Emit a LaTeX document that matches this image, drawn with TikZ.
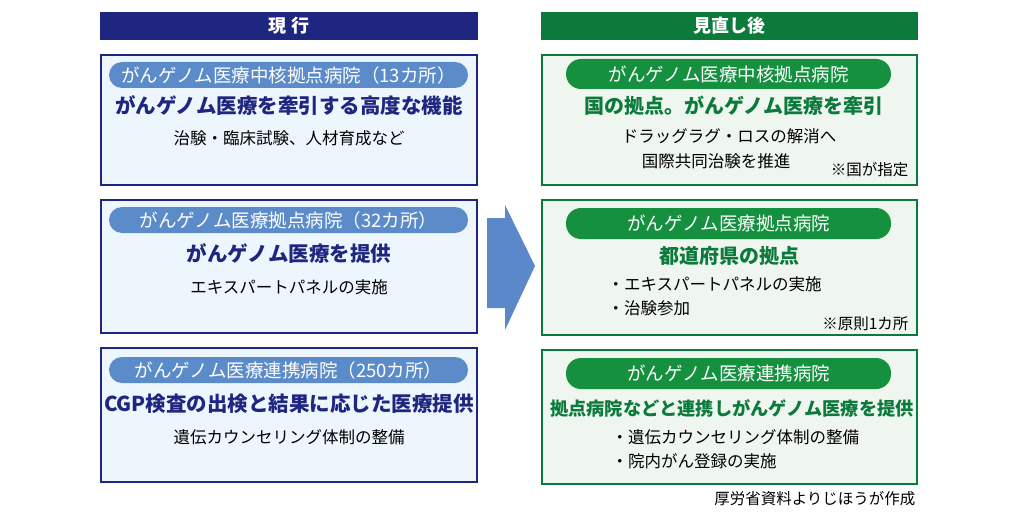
\documentclass[tikz,border=0pt]{standalone}
\usepackage{fontspec}
\setmainfont{Noto Sans CJK JP}
\usetikzlibrary{positioning}
\definecolor{navy}{HTML}{1F2680}
\definecolor{lfill}{HTML}{EEF6FD}
\definecolor{lpill}{HTML}{5B8BC9}
\definecolor{dgreen}{HTML}{0B7A3B}
\definecolor{rfill}{HTML}{EEF6EF}
\definecolor{rpill}{HTML}{15903F}
\definecolor{arrowblue}{HTML}{5B88C8}
\tikzset{
  hbar/.style={text=white,font=\fontsize{18}{20}\selectfont\bfseries},
  lbox/.style={draw=navy,fill=lfill,line width=1.2pt},
  rbox/.style={draw=dgreen,fill=rfill,line width=1.2pt},
  lpillst/.style={fill=lpill,rounded corners=13pt},
  rpillst/.style={fill=rpill,rounded corners=15pt},
  pilltext/.style={text=white,font=\fontsize{18.5}{20}\selectfont},
  lhead/.style={text=navy,font=\fontsize{20.5}{22}\selectfont\bfseries},
  rhead/.style={text=dgreen,font=\fontsize{20}{22}\selectfont\bfseries},
  sub/.style={text=black,font=\fontsize{16.5}{18}\selectfont},
  note/.style={text=black,font=\fontsize{15.5}{17}\selectfont}
}
\begin{document}
\begin{tikzpicture}[x=1pt,y=-1pt]
\useasboundingbox (0,0) rectangle (1024,513);
% headers
\fill[navy] (100,12) rectangle (478,40);
\node[hbar] (cur) at (289,26) {現 行};
\fill[dgreen] (541,12) rectangle (918,40);
\node[hbar] (new) at (729.5,26) {見直し後};
% left boxes
\draw[lbox] (101,55) rectangle (477,185);
\draw[lbox] (101,200) rectangle (477,333);
\draw[lbox] (101,348) rectangle (477,482);
\fill[lpillst] (109,62) rectangle (468,88);
\fill[lpillst] (109,207) rectangle (468,233);
\fill[lpillst] (109,357) rectangle (468,383);
\node[pilltext] (l1) at (288.5,75) {がんゲノム医療中核拠点病院（13カ所）};
\node[lhead] (l1h) at (289,106) {がんゲノム医療を牽引する高度な機能};
\node[sub] (l1s) at (289,138) {治験・臨床試験、人材育成など};
\node[pilltext] (l2) at (288.5,220) {がんゲノム医療拠点病院（32カ所）};
\node[lhead] (l2h) at (289,254) {がんゲノム医療を提供};
\node[sub] (l2s) at (289,287) {エキスパートパネルの実施};
\node[pilltext] (l3) at (288.5,370) {がんゲノム医療連携病院（250カ所）};
\node[lhead] (l3h) at (289,404) {CGP検査の出検と結果に応じた医療提供};
\node[sub] (l3s) at (289,437) {遺伝カウンセリング体制の整備};
% arrow
\fill[arrowblue] (487,218) -- (505,218) -- (505,205) -- (535,266) -- (505,330) -- (505,308) -- (487,308) -- cycle;
% right boxes
\draw[rbox] (542,55) rectangle (917,185);
\draw[rbox] (542,200) rectangle (917,335);
\draw[rbox] (542,350) rectangle (917,484);
\fill[rpillst] (566,59) rectangle (891,89);
\fill[rpillst] (566,208) rectangle (891,239);
\fill[rpillst] (566,358) rectangle (891,389);
\node[pilltext] (r1) at (728.5,74) {がんゲノム医療中核拠点病院};
\node[rhead] (r1h) at (734,106) {国の拠点。がんゲノム医療を牽引};
\node[sub] (r1a) at (729,136) {ドラッグラグ・ロスの解消へ};
\node[sub] (r1b) at (716,161) {国際共同治験を推進};
\node[note,anchor=east] (r1n) at (912,170) {※国が指定};
\node[pilltext] (r2) at (728.5,223) {がんゲノム医療拠点病院};
\node[rhead] (r2h) at (729,256) {都道府県の拠点};
\node[sub,anchor=west] (r2a) at (604,284) {・エキスパートパネルの実施};
\node[sub,anchor=west] (r2b) at (604,308) {・治験参加};
\node[note,anchor=east] (r2n) at (912,324) {※原則1カ所};
\node[pilltext] (r3) at (728.5,373) {がんゲノム医療連携病院};
\node[rhead,font=\fontsize{18.2}{20}\selectfont\bfseries] (r3h) at (732,408) {拠点病院などと連携しがんゲノム医療を提供};
\node[sub,anchor=west] (r3a) at (608,437) {・遺伝カウンセリング体制の整備};
\node[sub,anchor=west] (r3b) at (608,461) {・院内がん登録の実施};
\node[note,anchor=east] (src) at (919,499) {厚労省資料よりじほうが作成};
\end{tikzpicture}
\end{document}
